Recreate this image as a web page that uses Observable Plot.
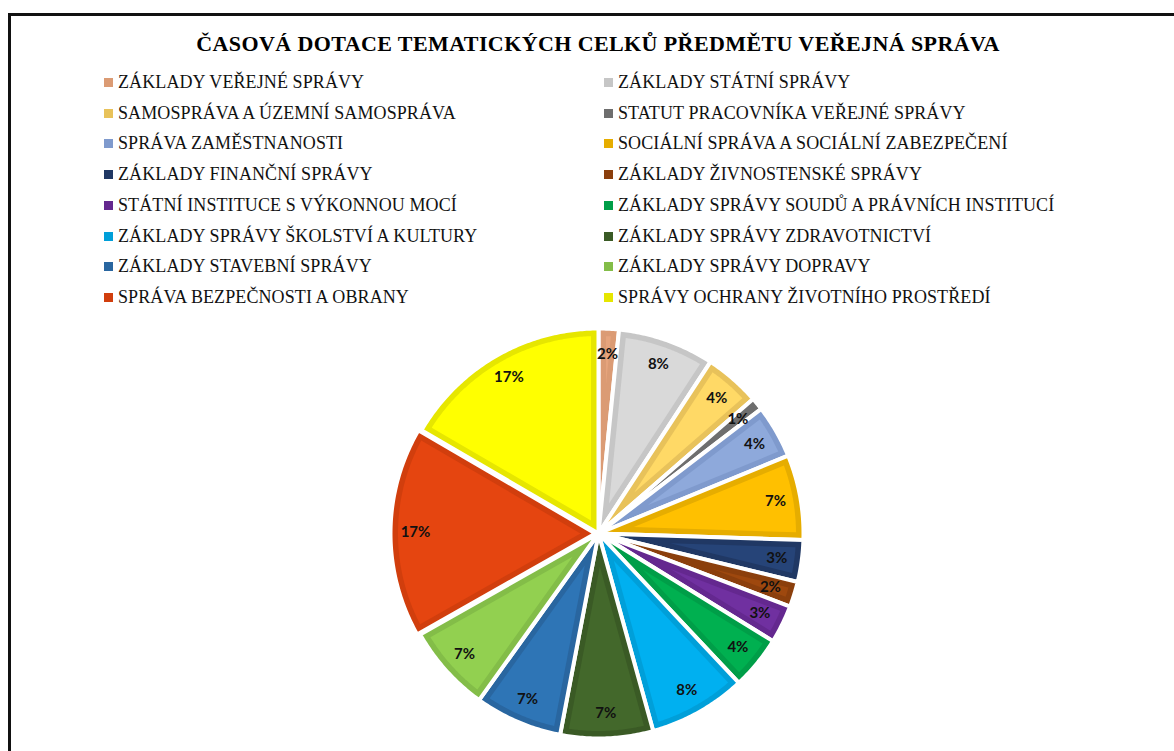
<!DOCTYPE html>
<html>
<head>
<meta charset="utf-8">
<script src="https://cdn.jsdelivr.net/npm/d3@7"></script>
<script src="https://cdn.jsdelivr.net/npm/@observablehq/plot@0.6"></script>
<style>
  html, body { margin: 0; padding: 0; background: #fff; }
  #page { position: relative; width: 1174px; height: 751px; overflow: hidden; }
  #frame { position: absolute; left: 8px; top: 13px; width: 1200px; height: 800px;
           border-top: 3px solid #111; border-left: 3px solid #111; }
  #title { position: absolute; left: 0; width: 1196px; top: 31px; text-align: center;
           font-family: "Liberation Serif", serif; font-weight: bold; font-size: 22px;
           letter-spacing: 0.4px; color: #000; }
  .lg { position: absolute; font-family: "Liberation Serif", serif; font-size: 18px;
        color: #111; white-space: nowrap; line-height: 20px; letter-spacing: 0.1px; }
  .lg span.sw { display: inline-block; width: 9px; height: 9px; margin-right: 5px; vertical-align: 1px; }
  #chart { position: absolute; left: 0; top: 0; }
</style>
</head>
<body>
<div id="page">
  <div id="frame"></div>
  <div id="chart"></div>
  <div id="title"></div>
</div>
<script>
const title = "ČASOVÁ DOTACE TEMATICKÝCH CELKŮ PŘEDMĚTU VEŘEJNÁ SPRÁVA";
const categories = [
  "ZÁKLADY VEŘEJNÉ SPRÁVY",
  "ZÁKLADY STÁTNÍ SPRÁVY",
  "SAMOSPRÁVA A ÚZEMNÍ SAMOSPRÁVA",
  "STATUT PRACOVNÍKA VEŘEJNÉ SPRÁVY",
  "SPRÁVA ZAMĚSTNANOSTI",
  "SOCIÁLNÍ SPRÁVA A SOCIÁLNÍ ZABEZPEČENÍ",
  "ZÁKLADY FINANČNÍ SPRÁVY",
  "ZÁKLADY ŽIVNOSTENSKÉ SPRÁVY",
  "STÁTNÍ INSTITUCE S VÝKONNOU MOCÍ",
  "ZÁKLADY SPRÁVY SOUDŮ A PRÁVNÍCH INSTITUCÍ",
  "ZÁKLADY SPRÁVY ŠKOLSTVÍ A KULTURY",
  "ZÁKLADY SPRÁVY ZDRAVOTNICTVÍ",
  "ZÁKLADY STAVEBNÍ SPRÁVY",
  "ZÁKLADY SPRÁVY DOPRAVY",
  "SPRÁVA BEZPEČNOSTI A OBRANY",
  "SPRÁVY OCHRANY ŽIVOTNÍHO PROSTŘEDÍ"
];
const values = [1.6, 7.6, 4.4, 1.0, 4.2, 6.7, 3.3, 2.0, 3.0, 4.2, 7.7, 7.3, 6.9, 6.9, 16.6, 16.6];

const fillColors = ["#E6A47D","#D9D9D9","#FFD966","#7F7F7F","#8EA9DB","#FFC000","#264478","#9E480E",
                    "#7030A0","#00B050","#00B0F0","#43682B","#2E75B6","#92D050","#E54510","#FFFF00"];
const borderColors = ["#DB9B74","#C6C6C6","#E8C25A","#6E6E6E","#7F9ACD","#E6AD00","#203864","#8B3F0C",
                      "#64288F","#009E48","#009FD9","#3A5A25","#2966A0","#83BD48","#D13E0D","#E6E600"];
// radial offset (px) of exploded slices, by index
const explode = {14: 3};

document.getElementById("title").textContent = title;

// legend (two columns, row-major)
const page = document.getElementById("page");
categories.forEach((c, i) => {
  const col = i % 2, row = Math.floor(i / 2);
  const el = document.createElement("div");
  el.className = "lg";
  el.style.left = (col === 0 ? 104 : 604) + "px";
  el.style.top = (72 + row * 30.7) + "px";
  el.innerHTML = `<span class="sw" style="background:${borderColors[i]}"></span>`;
  el.appendChild(document.createTextNode(c));
  page.appendChild(el);
});

// pie geometry in page pixel units, mapped through Plot's x/y scales
const cx = 598, cy = 533, R = 205, gap = 2, band = 5.5, labelR = 180;
const arcs = d3.pie().sort(null).value(d => d)(values);
const total = d3.sum(values);

const outerPts = [], innerPts = [], labels = [];
arcs.forEach((a, i) => {
  const a0 = a.startAngle, a1 = a.endAngle, half = (a1 - a0) / 2, mid = (a0 + a1) / 2;
  const off = explode[i] || 0;
  const ox = cx + off * Math.sin(mid), oy = cy - off * Math.cos(mid);
  const polar = (r, t) => [ox + r * Math.sin(t), oy - r * Math.cos(t)];
  const n = Math.max(4, Math.ceil((a1 - a0) / 0.01));
  // outer slice (border colour)
  const [ax, ay] = polar(0, mid);
  outerPts.push({k: i, x: ax, y: ay, c: borderColors[i]});
  for (let j = 0; j <= n; ++j) {
    const [x, y] = polar(R, a0 + (a1 - a0) * j / n);
    outerPts.push({k: i, x, y, c: borderColors[i]});
  }
  // inner slice (fill colour), inset by the border band
  const inset = gap + band, Ri = R - inset;
  const apexR = inset / Math.sin(Math.min(half, Math.PI / 2));
  const d = Math.asin(Math.min(1, inset / Ri));
  if (apexR < Ri - 4 && (a1 - a0) > 2 * d) {
    const [px, py] = polar(apexR, mid);
    innerPts.push({k: i, x: px, y: py, c: fillColors[i]});
    const b0 = a0 + d, b1 = a1 - d;
    for (let j = 0; j <= n; ++j) {
      const [x, y] = polar(Ri, b0 + (b1 - b0) * j / n);
      innerPts.push({k: i, x, y, c: fillColors[i]});
    }
  }
  const [lx, ly] = polar(labelR, mid);
  labels.push({x: lx, y: ly, t: Math.round(a.data / total * 100) + "%"});
});

const chart = Plot.plot({
  width: 1174, height: 751, margin: 0,
  style: {background: "none"},
  x: {domain: [0, 1174], range: [0, 1174], axis: null},
  y: {domain: [0, 751], range: [0, 751], axis: null},
  color: {type: "identity"},
  marks: [
    Plot.line(outerPts, {x: "x", y: "y", z: "k", fill: "c", stroke: "white", strokeWidth: 4,
                         strokeLinejoin: "round", curve: "linear-closed"}),
    Plot.line(innerPts, {x: "x", y: "y", z: "k", fill: "c", stroke: "none", curve: "linear-closed"}),
    Plot.text(labels, {x: "x", y: "y", text: "t", fontSize: 15, fontWeight: "bold",
                       fontFamily: "Lato, 'Open Sans', sans-serif", fill: "#111"})
  ]
});
document.getElementById("chart").appendChild(chart);
</script>
</body>
</html>
